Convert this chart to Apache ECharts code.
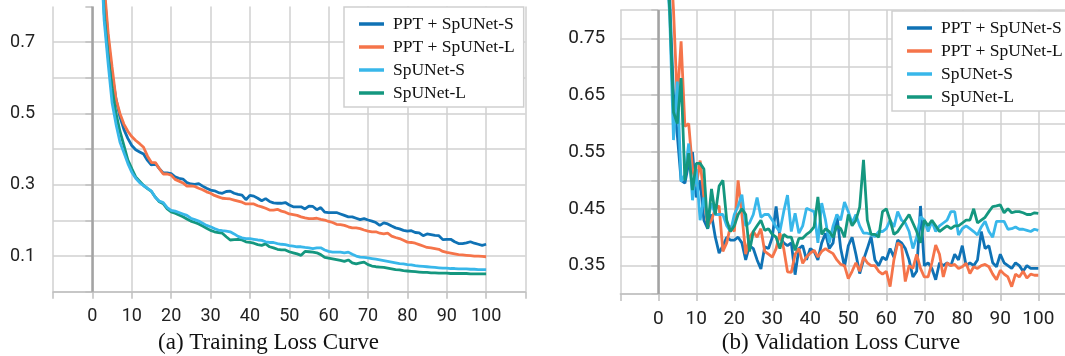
<!DOCTYPE html>
<html><head><meta charset="utf-8">
<script src="https://cdn.jsdelivr.net/npm/echarts@6/dist/echarts.min.js"></script>
<style>html,body{margin:0;padding:0;background:#fff}#c{width:1065px;height:356px}</style>
</head><body><div id="c"></div>
<script>
const seriesNames = ['PPT + SpUNet-S', 'PPT + SpUNet-L', 'SpUNet-S', 'SpUNet-L'];
const seriesColors = ['#0f72b5', '#f5744a', '#38b7ea', '#14977f'];

// Training loss, epochs 1..100
const trainPptS = [1.35,0.98,0.84,0.71,0.61,0.54,0.49,0.455,0.43,0.41,0.398,0.392,0.386,0.368,0.355,0.36,0.345,0.333,0.333,0.331,
0.322,0.318,0.316,0.306,0.302,0.301,0.303,0.296,0.29,0.285,0.283,0.278,0.276,0.281,0.282,0.276,0.273,0.271,0.258,0.27,
0.268,0.262,0.255,0.261,0.253,0.249,0.248,0.248,0.25,0.243,0.238,0.238,0.238,0.232,0.24,0.239,0.23,0.236,0.223,0.222,
0.222,0.222,0.218,0.214,0.21,0.21,0.206,0.202,0.205,0.201,0.198,0.194,0.186,0.193,0.19,0.184,0.179,0.176,0.172,0.17,
0.171,0.166,0.165,0.157,0.162,0.16,0.158,0.157,0.146,0.147,0.147,0.14,0.135,0.135,0.137,0.14,0.136,0.133,0.13,0.133];
const trainPptL = [1.4,1.05,0.86,0.725,0.63,0.54,0.5,0.47,0.45,0.435,0.424,0.415,0.405,0.38,0.362,0.362,0.345,0.33,0.33,0.327,
0.315,0.31,0.305,0.296,0.297,0.295,0.29,0.286,0.28,0.276,0.27,0.266,0.262,0.261,0.26,0.257,0.254,0.251,0.246,0.246,
0.246,0.241,0.238,0.234,0.229,0.229,0.231,0.226,0.223,0.218,0.216,0.214,0.21,0.207,0.205,0.205,0.206,0.203,0.201,0.197,
0.194,0.189,0.188,0.186,0.182,0.179,0.179,0.177,0.173,0.17,0.168,0.168,0.164,0.162,0.164,0.156,0.152,0.149,0.144,0.139,
0.138,0.136,0.132,0.128,0.124,0.123,0.121,0.119,0.113,0.11,0.108,0.106,0.104,0.103,0.102,0.101,0.1,0.1,0.099,0.098];
const trainS = [1.3,0.98,0.76,0.64,0.53,0.47,0.42,0.39,0.36,0.335,0.318,0.306,0.297,0.29,0.282,0.264,0.254,0.25,0.236,0.228,
0.226,0.222,0.218,0.214,0.206,0.202,0.198,0.192,0.186,0.182,0.177,0.173,0.171,0.17,0.168,0.162,0.155,0.151,0.149,0.149,
0.147,0.145,0.144,0.14,0.138,0.138,0.135,0.133,0.132,0.129,0.128,0.126,0.126,0.124,0.123,0.121,0.123,0.123,0.117,0.113,
0.111,0.111,0.111,0.109,0.111,0.105,0.1,0.097,0.096,0.095,0.093,0.091,0.089,0.087,0.085,0.083,0.081,0.079,0.078,0.076,
0.075,0.073,0.072,0.071,0.07,0.069,0.068,0.067,0.066,0.066,0.065,0.065,0.064,0.064,0.064,0.063,0.063,0.062,0.062,0.062];
const trainL = [1.3,1.0,0.78,0.66,0.57,0.5,0.45,0.41,0.37,0.345,0.322,0.31,0.298,0.289,0.281,0.265,0.252,0.247,0.232,0.224,
0.22,0.215,0.21,0.204,0.198,0.194,0.19,0.184,0.178,0.172,0.168,0.166,0.164,0.154,0.145,0.146,0.147,0.145,0.14,0.138,
0.136,0.132,0.13,0.134,0.126,0.123,0.119,0.117,0.117,0.112,0.109,0.106,0.102,0.113,0.112,0.111,0.109,0.104,0.096,0.094,
0.092,0.09,0.088,0.085,0.089,0.081,0.078,0.081,0.083,0.076,0.072,0.07,0.069,0.068,0.066,0.064,0.062,0.061,0.059,0.058,
0.057,0.056,0.055,0.054,0.054,0.053,0.053,0.052,0.052,0.052,0.051,0.051,0.051,0.051,0.051,0.05,0.05,0.05,0.05,0.05];

// Validation loss, epochs 1..100
const valPptS = [1.1,0.95,0.82,0.65,0.58,0.5,0.495,0.53,0.55,0.47,0.5,0.43,0.415,0.44,0.4,0.372,0.385,0.4,0.395,0.395,
0.4,0.39,0.36,0.385,0.38,0.36,0.344,0.383,0.38,0.4,0.454,0.4,0.39,0.385,0.39,0.334,0.38,0.385,0.36,0.38,
0.375,0.36,0.39,0.407,0.38,0.39,0.439,0.38,0.348,0.385,0.4,0.37,0.336,0.36,0.38,0.401,0.36,0.35,0.365,0.36,
0.38,0.365,0.395,0.39,0.38,0.36,0.33,0.34,0.455,0.35,0.355,0.345,0.325,0.355,0.35,0.355,0.35,0.37,0.36,0.385,
0.35,0.355,0.35,0.36,0.41,0.38,0.385,0.355,0.348,0.37,0.355,0.35,0.345,0.355,0.35,0.34,0.35,0.345,0.345,0.345];
const valPptL = [1.2,1.05,0.92,0.8,0.64,0.745,0.595,0.6,0.52,0.49,0.535,0.47,0.42,0.43,0.45,0.455,0.375,0.39,0.42,0.41,
0.5,0.44,0.37,0.4,0.41,0.4,0.415,0.375,0.37,0.365,0.38,0.407,0.38,0.339,0.338,0.37,0.38,0.354,0.365,0.372,
0.377,0.365,0.375,0.38,0.375,0.371,0.36,0.352,0.35,0.327,0.34,0.355,0.34,0.365,0.355,0.35,0.35,0.34,0.335,0.34,
0.313,0.36,0.39,0.385,0.322,0.35,0.345,0.37,0.345,0.33,0.33,0.355,0.386,0.37,0.33,0.355,0.35,0.352,0.345,0.348,
0.354,0.336,0.348,0.345,0.35,0.352,0.348,0.335,0.325,0.342,0.335,0.33,0.313,0.335,0.33,0.34,0.328,0.335,0.333,0.333];
const valS = [1.0,0.9,0.79,0.571,0.674,0.498,0.51,0.565,0.465,0.52,0.43,0.47,0.43,0.46,0.44,0.44,0.44,0.42,0.41,0.44,
0.455,0.475,0.42,0.425,0.44,0.47,0.435,0.44,0.44,0.43,0.418,0.41,0.445,0.474,0.41,0.442,0.407,0.42,0.451,0.448,
0.445,0.39,0.46,0.43,0.39,0.42,0.44,0.43,0.462,0.445,0.425,0.44,0.42,0.407,0.407,0.405,0.401,0.41,0.41,0.415,
0.43,0.418,0.445,0.43,0.425,0.41,0.38,0.4,0.436,0.43,0.41,0.428,0.41,0.42,0.425,0.43,0.445,0.445,0.404,0.415,
0.42,0.415,0.41,0.404,0.418,0.428,0.41,0.4,0.428,0.428,0.428,0.414,0.415,0.418,0.414,0.414,0.412,0.41,0.414,0.412];
const valL = [1.05,0.92,0.8,0.62,0.6,0.68,0.5,0.548,0.483,0.53,0.53,0.52,0.415,0.485,0.44,0.49,0.5,0.43,0.41,0.42,
0.44,0.45,0.44,0.375,0.41,0.42,0.43,0.412,0.415,0.405,0.4,0.38,0.405,0.4,0.4,0.377,0.398,0.398,0.405,0.41,
0.418,0.471,0.405,0.415,0.41,0.4,0.42,0.415,0.4,0.44,0.42,0.43,0.453,0.536,0.43,0.405,0.405,0.4,0.445,0.45,
0.43,0.405,0.41,0.42,0.43,0.44,0.425,0.41,0.39,0.43,0.42,0.43,0.42,0.41,0.415,0.42,0.415,0.42,0.42,0.425,
0.43,0.43,0.45,0.425,0.43,0.435,0.445,0.454,0.455,0.457,0.443,0.45,0.443,0.445,0.445,0.443,0.44,0.44,0.443,0.442];

const xTickLabels = [0, 10, 20, 30, 40, 50, 60, 70, 80, 90, 100];
const trainYLabels = [0.1, 0.3, 0.5, 0.7];
const valYLabels = [0.35, 0.45, 0.55, 0.65, 0.75];
const titles = ['(a) Training Loss Curve', '(b) Validation Loss Curve'];

const near = (arr, v) => arr.find(t => Math.abs(t - v) < 1e-6);
const gridColor = '#d0d0d0';
const axisColor = '#c0c0c0';

function xAxisFor(gi, fs) {
  return {
    type: 'value', gridIndex: gi, min: -10, max: 110, interval: 10,
    axisLine: { show: true, onZero: false, lineStyle: { color: axisColor, width: 1.5 } },
    axisTick: { show: true, length: 7, lineStyle: { color: axisColor, width: 1.5 } },
    axisLabel: { margin: 16, fontFamily: 'Roboto', fontSize: fs, color: '#222',
      formatter: v => near(xTickLabels, v) !== undefined ? String(near(xTickLabels, v)) : '' },
    splitLine: { show: true, lineStyle: { color: gridColor, width: 1.5 } }
  };
}
function yAxisFor(gi, min, max, interval, labels, digits, fs, margin, showMax) {
  return {
    type: 'value', gridIndex: gi, min, max, interval,
    axisLine: { show: false },
    axisTick: { show: true, length: 7, lineStyle: { color: axisColor, width: 1.5 } },
    axisLabel: { margin, fontFamily: 'Roboto', fontSize: fs, color: '#222',
      formatter: v => { const t = near(labels, v); return t !== undefined ? t.toFixed(digits) : ''; } },
    splitLine: { show: true, showMaxLine: showMax, lineStyle: { color: gridColor, width: 1.5 } }
  };
}
function mkSeries(name, color, vals, gi, withMark) {
  const s = {
    name, type: 'line', xAxisIndex: gi, yAxisIndex: gi,
    data: vals.map((v, i) => [i + 1, v]),
    showSymbol: false, symbol: 'none', clip: false,
    lineStyle: { color, width: 2.8 }, itemStyle: { color },
    emphasis: { disabled: true }, animation: false
  };
  if (withMark) {
    s.markLine = { silent: true, symbol: ['none', 'none'], label: { show: false },
      lineStyle: { color: '#a3a3a3', width: 2.5, type: 'solid' },
      emphasis: { disabled: true }, animation: false, data: [{ xAxis: 0 }] };
  }
  return s;
}
const trainSets = [trainPptS, trainPptL, trainS, trainL];
const valSets = [valPptS, valPptL, valS, valL];
const series = [];
// training: draw SpUNet-L below SpUNet-S
[0, 1, 3, 2].forEach((i, k) => series.push(mkSeries(seriesNames[i], seriesColors[i], trainSets[i], 0, k === 0)));
valSets.forEach((d, i) => series.push(mkSeries(seriesNames[i], seriesColors[i], d, 1, i === 0)));

function legendAt(left, top) {
  return {
    left, top, orient: 'vertical', data: seriesNames, icon: 'rect',
    itemWidth: 25, itemHeight: 3.5, itemGap: 5, padding: [8, 9, 5, 15],
    borderColor: '#cfcfcf', borderWidth: 1.5, backgroundColor: '#fff', selectedMode: false,
    textStyle: { fontFamily: 'Liberation Serif', fontSize: 17.5, color: '#111', lineHeight: 18, padding: [0, 0, 0, 4] }
  };
}

const chart = echarts.init(document.getElementById('c'), null, { renderer: 'canvas' });
chart.setOption({
  animation: false,
  backgroundColor: '#fff',
  grid: [
    { left: 53, top: 6.4, width: 472.5, height: 285.3, outerBoundsMode: 'none', containLabel: false },
    { left: 620.3, top: 10, width: 456, height: 284, outerBoundsMode: 'none', containLabel: false }
  ],
  xAxis: [xAxisFor(0, 18), xAxisFor(1, 19)],
  yAxis: [
    yAxisFor(0, 0, 0.8, 0.1, trainYLabels, 1, 18, 18, false),
    yAxisFor(1, 0.3, 0.8, 0.05, valYLabels, 2, 19, 15, true)
  ],
  legend: [legendAt(344, 7), legendAt(892, 11)],
  series,
  graphic: [
    { type: 'text', x: 268.5, y: 343, silent: true,
      style: { text: titles[0], font: '23px "Liberation Serif"', fill: '#111', align: 'center', verticalAlign: 'middle' } },
    { type: 'text', x: 841, y: 343, silent: true,
      style: { text: titles[1], font: '23px "Liberation Serif"', fill: '#111', align: 'center', verticalAlign: 'middle' } }
  ]
});
</script></body></html>
